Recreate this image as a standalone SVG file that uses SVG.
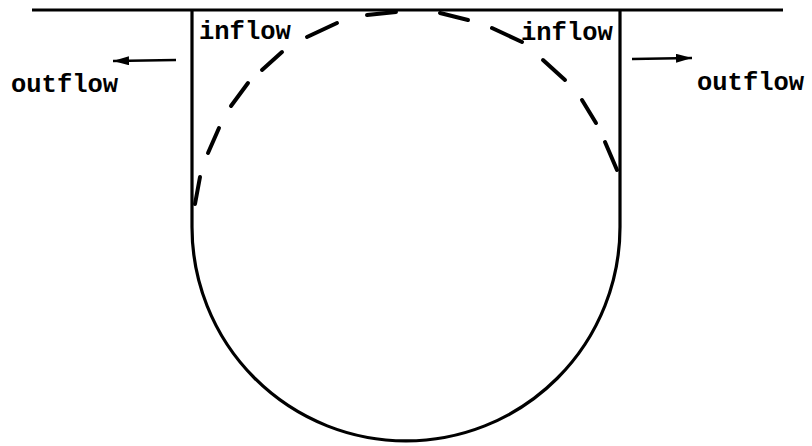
<svg xmlns="http://www.w3.org/2000/svg" width="812" height="446" viewBox="0 0 812 446">
  <style>
    .wall { fill: none; stroke: #000; stroke-width: 3.2; stroke-linejoin: round; }
    .dash { fill: none; stroke: #000; stroke-width: 4; stroke-linecap: round; }
    .arrow { fill: none; stroke: #000; stroke-width: 2.5; }
    .lbl { font-family: "Liberation Mono", "DejaVu Sans Mono", monospace; font-weight: bold; font-size: 25.5px; fill: #000; }
  </style>
  <defs>
    <marker id="head" viewBox="0 0 16 9" refX="16" refY="4.5" markerWidth="16" markerHeight="9" markerUnits="userSpaceOnUse" orient="auto">
      <path d="M0,0 L16,4.5 L0,9 Z" fill="#000"/>
    </marker>
  </defs>
  <g id="surface">
    <line class="wall" x1="32" y1="10" x2="783" y2="10" stroke-width="3.6"/>
  </g>
  <g id="cavity">
    <path class="wall" d="M192,10 V227 A214,214 0 0 0 620,227 V10"/>
  </g>
  <g id="flow-circle">
    <line class="dash" x1="195" y1="204" x2="200" y2="177"/>
    <line class="dash" x1="208" y1="153" x2="219" y2="128"/>
    <line class="dash" x1="231" y1="106" x2="248" y2="83"/>
    <line class="dash" x1="262" y1="70" x2="282" y2="52"/>
    <line class="dash" x1="307" y1="37" x2="337" y2="23"/>
    <line class="dash" x1="367" y1="15" x2="396" y2="12" stroke-width="5"/>
    <line class="dash" x1="440" y1="13" x2="468" y2="20"/>
    <line class="dash" x1="492" y1="28" x2="522" y2="42"/>
    <line class="dash" x1="543" y1="60" x2="565" y2="80"/>
    <line class="dash" x1="582" y1="100" x2="596" y2="123"/>
    <line class="dash" x1="605" y1="142" x2="617" y2="170"/>
  </g>
  <g id="label-inflow-left">
    <text class="lbl" x="199" y="39">inflow</text>
  </g>
  <g id="label-inflow-right">
    <text class="lbl" x="521" y="40">inflow</text>
  </g>
  <g id="label-outflow-left">
    <text class="lbl" x="11" y="92">outflow</text>
  </g>
  <g id="label-outflow-right">
    <text class="lbl" x="697" y="90">outflow</text>
  </g>
  <g id="connectors">
    <line class="arrow" x1="176" y1="60" x2="113" y2="61" marker-end="url(#head)"/>
    <line class="arrow" x1="632" y1="59" x2="692" y2="58" marker-end="url(#head)"/>
  </g>
</svg>
